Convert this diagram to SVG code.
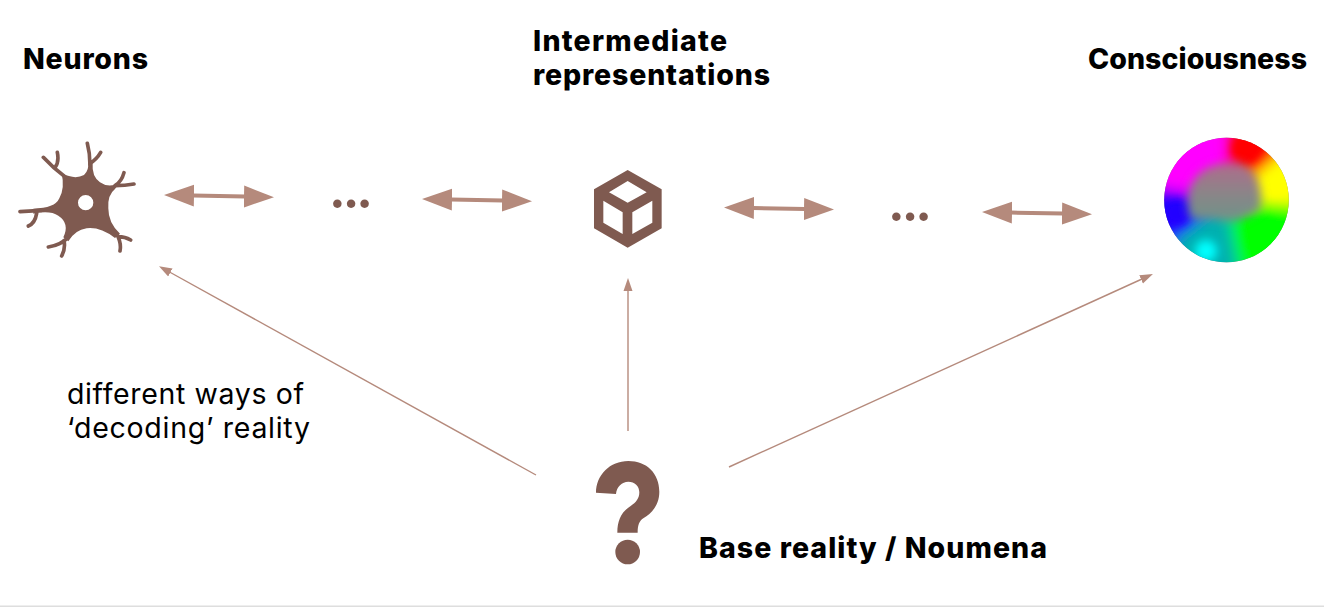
<svg xmlns="http://www.w3.org/2000/svg" width="1324" height="607" viewBox="0 0 1324 607">
<style>
.b{font-family:"Inter","Liberation Sans",sans-serif;font-weight:800;font-size:28.5px;fill:#000}
.r{font-family:"Inter","Liberation Sans",sans-serif;font-weight:400;font-size:28.5px;fill:#000}
.d{font-family:"Inter","Liberation Sans",sans-serif;font-weight:700;font-size:50px;fill:#7f5a50}
.ico{fill:#7f5a50}
.den{fill:none;stroke:#7f5a50;stroke-width:11;stroke-linecap:round}
.thick{stroke:#b58a7c;stroke-width:4;fill:none;marker-start:url(#big);marker-end:url(#big)}
.thin{stroke:#b58a7c;stroke-width:1.4;fill:none;marker-end:url(#small)}
</style>
<defs>
<marker id="big" markerUnits="userSpaceOnUse" markerWidth="34" markerHeight="26" refX="1" refY="12" orient="auto-start-reverse"><path d="M0 1L30 12L0 23Z" fill="#b58a7c"/></marker>
<marker id="small" markerUnits="userSpaceOnUse" markerWidth="14" markerHeight="12" refX="1" refY="5" orient="auto"><path d="M0 0.5L13 5L0 9.5Z" fill="#b58a7c"/></marker>
<clipPath id="disc"><circle cx="1226.5" cy="200" r="62.3"/></clipPath>
<filter id="bl" x="-30%" y="-30%" width="160%" height="160%"><feGaussianBlur stdDeviation="7"/></filter>
<filter id="bl2" x="-40%" y="-40%" width="180%" height="180%"><feGaussianBlur stdDeviation="5"/></filter>
<filter id="bl3" x="-40%" y="-40%" width="180%" height="180%"><feGaussianBlur stdDeviation="4"/></filter>
<linearGradient id="core" x1="0" y1="0" x2="0" y2="1"><stop offset="0" stop-color="#b06a8c"/><stop offset=".5" stop-color="#8c8488"/><stop offset="1" stop-color="#6c9488"/></linearGradient>
</defs>
<rect width="1324" height="607" fill="#fff"/>
<rect y="605.5" width="1324" height="1.5" fill="#dedede"/>
<g id="connectors">
<line class="thick" x1="193" y1="195.6" x2="245" y2="196.6"/>
<line class="thick" x1="451" y1="199.6" x2="503" y2="200.6"/>
<line class="thick" x1="753" y1="208" x2="805" y2="209"/>
<line class="thick" x1="1011" y1="212.6" x2="1063" y2="213.6"/>
<line class="thin" x1="536" y1="475" x2="169.5" y2="272"/>
<line class="thin" x1="628" y1="431" x2="628" y2="290"/>
<line class="thin" x1="729" y1="467" x2="1142" y2="279"/>
</g>
<g id="ellipsis-1"><text class="d" x="329" y="207.5" textLength="44">...</text></g>
<g id="ellipsis-2"><text class="d" x="888" y="221" textLength="44">...</text></g>
<g id="neurons-label"><text class="b" x="23" y="69" textLength="125">Neurons</text></g>
<g id="intermediate-label"><text class="b" x="533" y="51" textLength="194">Intermediate</text><text class="b" x="533" y="85" textLength="237">representations</text></g>
<g id="consciousness-label"><text class="b" x="1088" y="69" textLength="219">Consciousness</text></g>
<g id="base-label"><text class="b" x="699" y="558" textLength="348">Base reality / Noumena</text></g>
<g id="decoding-label"><text class="r" x="67" y="404" textLength="237">different ways of</text><text class="r" x="67" y="438" textLength="243">‘decoding’ reality</text></g>
<g id="neuron" transform="translate(0 120) scale(.3333)">
<path class="ico" fill-rule="evenodd" d="M185 160Q225 180 252 165Q268 150 264 125L278 130Q275 170 300 187Q325 205 358 190L345 207Q322 225 325 265Q325 310 360 341L345 354Q300 320 260 325Q225 330 205 364L190 352Q210 310 175 287Q150 270 100 281L100 266Q165 265 178 235Q195 205 185 160ZM280 248A23 23 0 1 0 234 248A23 23 0 1 0 280 248Z"/>
<path class="den" d="M262 70Q270 100 270 135M302 97Q290 118 270 130M130 112Q160 145 195 170M172 97Q178 125 165 143M372 158Q365 185 345 197M402 192Q375 197 345 197M60 275L125 271M110 280Q105 310 85 318M145 381Q185 375 208 348M185 408Q197 385 192 362M360 393Q365 370 350 342M392 360Q375 350 355 350"/>
</g>
<g id="cube" transform="translate(570 150) scale(.3333)">
<path class="ico" fill-rule="evenodd" d="M173 60L275 118V235L173 293L72 235V118ZM173 93L117 127L173 158L230 127ZM100 152V218L158 252V187ZM247 152L187 187V252L247 218Z"/>
</g>
<g id="question" transform="translate(560 420) scale(.3333)">
<path class="ico" d="M108 218C108 165 150 123 205 123C260 123 298 160 298 215C298 255 275 280 250 295C238 303 233 315 233 338H172C172 300 185 275 212 258C228 248 238 235 238 217C238 198 224 185 205 185C186 185 170 200 168 222Z"/>
<circle class="ico" cx="203" cy="396" r="37"/>
</g>
<g id="colour-wheel" clip-path="url(#disc)">
<rect x="1150" y="125" width="150" height="150" fill="#808080"/>
<g filter="url(#bl)">
<path fill="#f0f" d="M1226 200L1228 120L1150 120L1140 185Z"/>
<path fill="#f00" d="M1226 200L1228 120L1300 120L1285 150Z"/>
<path fill="#ff0" d="M1226 200L1285 150L1310 160L1310 207Z"/>
<path fill="#0f0" d="M1226 200L1310 207L1310 280L1240 280Z"/>
<path fill="#00b0b0" d="M1226 200L1240 280L1170 280L1175 240Z"/>
<path fill="#20f" d="M1226 200L1175 240L1170 280L1140 270L1140 185Z"/>
</g>
<circle cx="1246" cy="148" r="15" fill="#f00" filter="url(#bl3)"/>
<circle cx="1192" cy="157" r="16" fill="#f0f" filter="url(#bl3)"/>
<circle cx="1177" cy="213" r="13" fill="#20f" filter="url(#bl3)"/>
<circle cx="1206" cy="251" r="11" fill="#0ff" filter="url(#bl2)"/>
<circle cx="1265" cy="236" r="18" fill="#0f0" filter="url(#bl3)"/>
<circle cx="1276" cy="187" r="10" fill="#ff0" filter="url(#bl3)"/>
<path d="M1189 190C1197 168 1215 161 1240 163C1257 168 1264 190 1260 210C1247 218 1236 224 1222 221C1205 217 1195 224 1189 214C1187 205 1187 198 1189 190Z" fill="url(#core)" filter="url(#bl2)"/>
</g>
</svg>
